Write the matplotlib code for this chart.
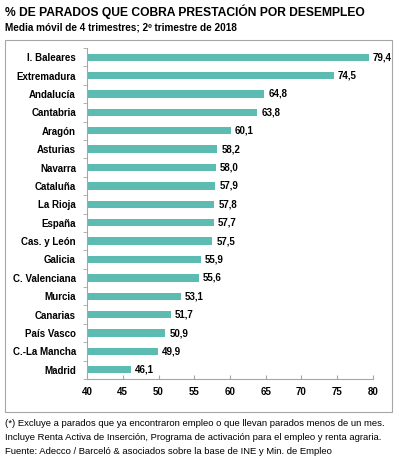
import matplotlib.pyplot as plt
from matplotlib.patches import Rectangle

plt.rcParams['font.family'] = ['Liberation Sans', 'DejaVu Sans']

# Comunidades autónomas
regiones = ['I. Baleares', 'Extremadura', 'Andalucía', 'Cantabria', 'Aragón',
            'Asturias', 'Navarra', 'Cataluña', 'La Rioja', 'España',
            'Cas. y León', 'Galicia', 'C. Valenciana', 'Murcia', 'Canarias',
            'País Vasco', 'C.-La Mancha', 'Madrid']
# % de parados que cobra prestación
valores = [79.4, 74.5, 64.8, 63.8, 60.1, 58.2, 58.0, 57.9, 57.8, 57.7,
           57.5, 55.9, 55.6, 53.1, 51.7, 50.9, 49.9, 46.1]
xticks = [40, 45, 50, 55, 60, 65, 70, 75, 80]

W, H = 399, 458
fig = plt.figure(figsize=(W / 100, H / 100), dpi=100)

# recuadro del gráfico
fig.patches.append(Rectangle((5 / W, 1 - 412 / H), 387 / W, 372 / H,
                             transform=fig.transFigure, fill=False,
                             edgecolor='#A6A6A6', linewidth=0.8))

ax = fig.add_axes([87 / W, 1 - 379 / H, 286 / W, 331 / H])
pos = list(range(len(regiones)))
ax.barh(pos, valores, height=0.4, color='#5CBCB1')
ax.set_xlim(40, 80)
ax.set_ylim(len(regiones) - 0.5, -0.5)

for p, v in zip(pos, valores):
    ax.text(v + 0.6, p, f'{v:.1f}'.replace('.', ','), va='center', ha='left',
            fontsize=7, fontweight='bold')

ax.set_yticks(pos)
ax.set_yticklabels(regiones, fontsize=7, fontweight='bold')
ax.set_yticks([p - 0.5 for p in pos] + [len(pos) - 0.5], minor=True)
ax.tick_params(axis='y', which='major', length=0, pad=8)
ax.tick_params(axis='y', which='minor', length=3, color='#A6A6A6', direction='out')

ax.set_xticks(xticks)
ax.set_xticklabels([str(t) for t in xticks], fontsize=7, fontweight='bold')
ax.tick_params(axis='x', length=3, color='#A6A6A6', direction='in', pad=6)

for s in ['top', 'right']:
    ax.spines[s].set_visible(False)
for s in ['left', 'bottom']:
    ax.spines[s].set_color('#A6A6A6')
    ax.spines[s].set_linewidth(0.8)

fig.text(5 / W, 1 - 12 / H, '% DE PARADOS QUE COBRA PRESTACIÓN POR DESEMPLEO',
         fontsize=8.7, fontweight='bold', va='center')
fig.text(5 / W, 1 - 27 / H, 'Media móvil de 4 trimestres; 2º trimestre de 2018',
         fontsize=7.2, fontweight='bold', va='center')

notas = ['(*) Excluye a parados que ya encontraron empleo o que llevan parados menos de un mes.',
         'Incluye Renta Activa de Inserción, Programa de activación para el empleo y renta agraria.',
         'Fuente: Adecco / Barceló & asociados sobre la base de INE y Min. de Empleo']
for i, n in enumerate(notas):
    fig.text(5 / W, 1 - (423 + 14 * i) / H, n, fontsize=6.8, va='center')

plt.savefig('out.png', dpi=100)
